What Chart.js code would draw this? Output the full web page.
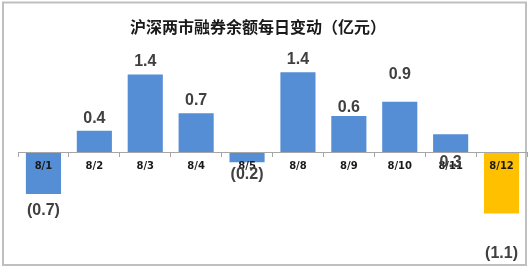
<!DOCTYPE html>
<html>
<head>
<meta charset="utf-8">
<script src="https://cdn.jsdelivr.net/npm/chart.js@4"></script>
<style>
  html, body { margin: 0; padding: 0; background: #fff; }
  canvas { display: block; }
</style>
</head>
<body>
<canvas id="chart" width="529" height="269"></canvas>
<script>
const title = "沪深两市融券余额每日变动（亿元）";
const days = ["8/1", "8/2", "8/3", "8/4", "8/5", "8/8", "8/9", "8/10", "8/11", "8/12"];
const changes = [-0.73, 0.38, 1.37, 0.69, -0.17, 1.41, 0.64, 0.89, 0.32, -1.07];

// label nudges in px from the end of each bar (hand placed in the original)
const labelOffsets = [16, -12, -13, -13, 12, -13, -8, -27, 28, 40];

const barColors = days.map((d, i) => (i === days.length - 1 ? "#ffc000" : "#558ed5"));

function fmt(v) {
  const s = Math.abs(v).toFixed(1);
  return v < 0 ? "(" + s + ")" : s;
}

const frame = {
  id: "frame",
  beforeDraw(chart) {
    const ctx = chart.ctx;
    ctx.save();
    ctx.fillStyle = "#fff";
    ctx.fillRect(0, 0, chart.width, chart.height);
    ctx.strokeStyle = "#bfbfbf";
    ctx.lineWidth = 2;
    ctx.strokeRect(3, 2.5, 523, 262.5);
    ctx.restore();
  },
  afterDraw(chart) {
    const ctx = chart.ctx;
    ctx.save();
    ctx.fillStyle = "#1a1a1a";
    ctx.font = "bold 16px 'Noto Sans CJK SC'";
    ctx.textAlign = "center";
    ctx.textBaseline = "middle";
    ctx.fillText(title, 258, 27);

    const meta = chart.getDatasetMeta(0);
    ctx.fillStyle = "#404040";
    ctx.font = "bold 16px 'Liberation Sans'";
    meta.data.forEach((bar, i) => {
      ctx.fillText(fmt(changes[i]), bar.x, bar.y + labelOffsets[i]);
    });
    ctx.restore();
  },
};

new Chart(document.getElementById("chart"), {
  type: "bar",
  data: {
    labels: days,
    datasets: [
      {
        data: changes,
        backgroundColor: barColors,
        barPercentage: 0.69,
        categoryPercentage: 1,
      },
    ],
  },
  options: {
    responsive: false,
    animation: false,
    devicePixelRatio: 1,
    layout: { padding: { top: 67, bottom: 31, left: 18, right: 2 } },
    plugins: {
      legend: { display: false },
      tooltip: { enabled: false },
    },
    scales: {
      x: {
        position: { y: 0 },
        offset: true,
        border: { display: true, color: "#a6a6a6", width: 1, z: 1 },
        grid: {
          display: true,
          drawOnChartArea: false,
          drawTicks: true,
          tickLength: 4,
          offset: true,
          color: "#a6a6a6",
        },
        ticks: {
          z: 1,
          padding: 4,
          color: "#1a1a1a",
          maxRotation: 0,
          autoSkip: false,
          font: { family: "'DejaVu Sans'", weight: "bold", size: 10 },
        },
      },
      y: {
        display: false,
        min: -1.5,
        max: 1.5,
      },
    },
  },
  plugins: [frame],
});
</script>
</body>
</html>
